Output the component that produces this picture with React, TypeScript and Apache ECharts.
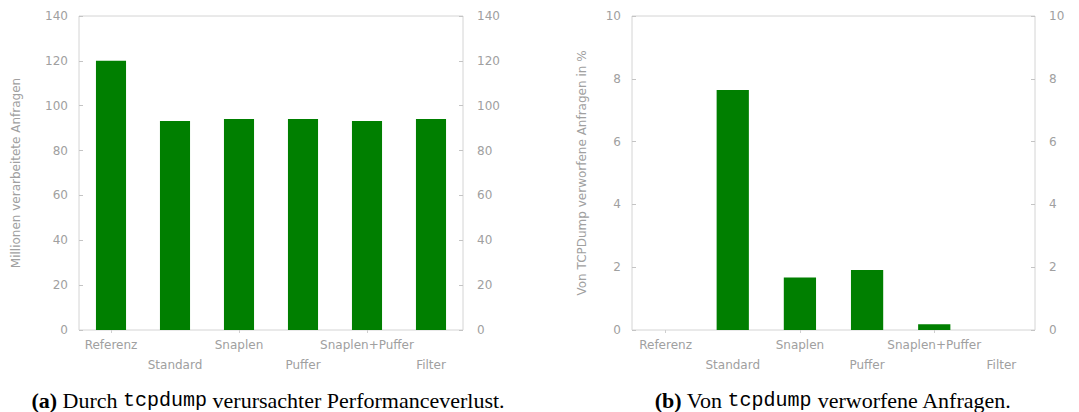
import React, { useEffect, useRef } from "react";
import * as echarts from "echarts";

// Messkonfigurationen (x-Achse beider Diagramme)
const categories = ["Referenz", "Standard", "Snaplen", "Puffer", "Snaplen+Puffer", "Filter"];

// (a) Millionen verarbeitete Anfragen je Konfiguration
const processedRequests = [120, 93.2, 94.1, 94.1, 93.2, 94.1];

// (b) Von TCPDump verworfene Anfragen in %
const droppedPercent = [0, 7.64, 1.67, 1.91, 0.18, 0];

const leftTicks = { min: 0, max: 140, interval: 20 };
const rightTicks = { min: 0, max: 10, interval: 2 };

const BAR = "#007f00";
const GREY_TEXT = "#a0a0a0";
const FRAME = "#d4d4d4";
const SANS = "DejaVu Sans";
const SERIF = "Liberation Serif";
const MONO = "Liberation Mono";

const labelFormatter = (v: string, i: number) => (i % 2 === 1 ? "\n" + v : v);

function xAxes(gridIndex: number) {
  return [
    {
      type: "category",
      gridIndex,
      data: categories,
      axisLine: { show: false },
      axisTick: { show: false },
      axisLabel: {
        interval: 0,
        margin: 5,
        lineHeight: 20,
        color: GREY_TEXT,
        fontFamily: SANS,
        fontSize: 12,
        formatter: labelFormatter,
      },
    },
    {
      type: "category",
      gridIndex,
      position: "top",
      data: categories,
      axisLine: { show: false },
      axisTick: { show: true, inside: true, alignWithLabel: true, length: 3, lineStyle: { color: "#cfcfcf" } },
      axisLabel: { show: false },
    },
  ];
}

function yAxes(gridIndex: number, ticks: { min: number; max: number; interval: number }, name: string, nameGap: number) {
  const common = {
    type: "value",
    gridIndex,
    min: ticks.min,
    max: ticks.max,
    interval: ticks.interval,
    axisLine: { show: false },
    splitLine: { show: false },
    axisTick: { show: true, inside: true, length: 4, lineStyle: { color: "#c4c4c4" } },
    axisLabel: { color: GREY_TEXT, fontFamily: SANS, fontSize: 12 },
  };
  return [
    {
      ...common,
      position: "left",
      name,
      nameLocation: "middle",
      nameGap,
      nameTextStyle: { color: GREY_TEXT, fontFamily: SANS, fontSize: 12 },
      axisLabel: { ...common.axisLabel, margin: 11 },
    },
    { ...common, position: "right", axisLabel: { ...common.axisLabel, margin: 14 } },
  ];
}

export default function App() {
  const ref = useRef<HTMLDivElement>(null);

  useEffect(() => {
    if (!ref.current) return;
    const chart = echarts.init(ref.current, null, { renderer: "svg" });

    const captionRich = {
      b: { fontFamily: SERIF, fontSize: 22, fontWeight: "bold", color: "#000" },
      n: { fontFamily: SERIF, fontSize: 22, fontWeight: "normal", color: "#000" },
      m: { fontFamily: MONO, fontSize: 20, fontWeight: "normal", color: "#222" },
    };

    chart.setOption({
      animation: false,
      backgroundColor: "#fff",
      grid: [
        { left: 79, top: 16, width: 384, height: 314, show: true, borderColor: FRAME, borderWidth: 1, backgroundColor: "transparent" },
        { left: 632, top: 16, width: 403, height: 314, show: true, borderColor: FRAME, borderWidth: 1, backgroundColor: "transparent" },
      ],
      xAxis: [...xAxes(0), ...xAxes(1)],
      yAxis: [
        ...yAxes(0, leftTicks, "Millionen verarbeitete Anfragen", 57),
        ...yAxes(1, rightTicks, "Von TCPDump verworfene Anfragen in %", 44),
      ],
      series: [
        {
          type: "bar",
          xAxisIndex: 0,
          yAxisIndex: 0,
          data: processedRequests,
          barWidth: "47%",
          itemStyle: { color: BAR },
        },
        {
          type: "bar",
          xAxisIndex: 2,
          yAxisIndex: 2,
          data: droppedPercent,
          barWidth: "48%",
          itemStyle: { color: BAR },
        },
      ],
      graphic: [
        {
          type: "text",
          x: 268,
          y: 400,
          style: {
            text: "{b|(a)}{n| Durch }{m|tcpdump}{n| verursachter Performanceverlust.}",
            rich: captionRich,
            align: "center",
            verticalAlign: "middle",
          },
        },
        {
          type: "text",
          x: 833,
          y: 400,
          style: {
            text: "{b|(b)}{n| Von }{m|tcpdump}{n| verworfene Anfragen.}",
            rich: captionRich,
            align: "center",
            verticalAlign: "middle",
          },
        },
      ],
    });

    return () => chart.dispose();
  }, []);

  return (
    <div
      ref={ref}
      style={{ position: "fixed", left: 0, top: 0, width: 1079, height: 412, background: "#fff" }}
    />
  );
}
